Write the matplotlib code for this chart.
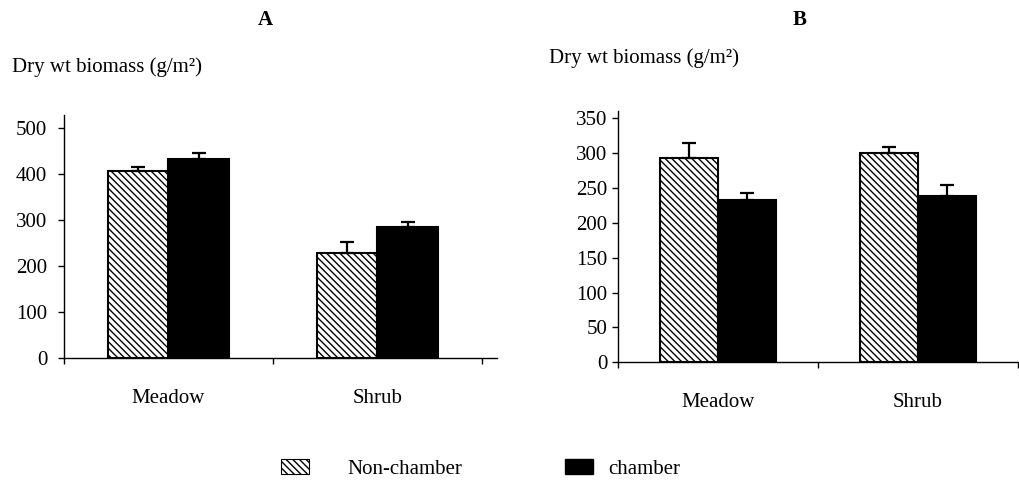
import matplotlib.pyplot as plt
from matplotlib.patches import Patch
import numpy as np

plt.rcParams['font.family'] = ['Liberation Serif', 'DejaVu Serif']
plt.rcParams['hatch.linewidth'] = 1.0

# data
sites = ["Meadow", "Shrub"]
a_non = [406, 228]
a_non_err = [9, 23]
a_ch = [432, 284]
a_ch_err = [13, 12]
b_non = [293, 300]
b_non_err = [22, 9]
b_ch = [233, 239]
b_ch_err = [10, 15]
a_ticks = [0, 100, 200, 300, 400, 500]
b_ticks = [0, 50, 100, 150, 200, 250, 300, 350]

fig = plt.figure(figsize=(10.19, 4.86), dpi=100)
W, H = 1019, 486

def draw_panel(rect, non, non_err, ch, ch_err, yticks, ytop, xright, width, ypad, xpad):
    ax = fig.add_axes(rect)
    x = np.arange(len(sites)) + 0.5
    w = width
    ax.bar(x - w/2, non, w, color="white", edgecolor="black", hatch="\\\\\\\\\\", linewidth=1.5,
           yerr=[[0]*len(non), non_err], capsize=5, error_kw=dict(elinewidth=1.6, capthick=1.6, ecolor="black"))
    ax.bar(x + w/2, ch, w, color="black", edgecolor="black", linewidth=1.5,
           yerr=[[0]*len(ch), ch_err], capsize=5, error_kw=dict(elinewidth=1.6, capthick=1.6, ecolor="black"))
    ax.set_ylim(0, ytop)
    ax.set_xlim(0, xright)
    ax.set_yticks(yticks)
    ax.set_xticks([0, 1, 2])
    ax.set_xticklabels([])
    ax.set_xticks(x, minor=True)
    ax.set_xticklabels(sites, minor=True, fontsize=15)
    ax.tick_params(axis="x", which="major", length=4.5, width=1, direction="out")
    ax.tick_params(axis="x", which="minor", length=0, pad=xpad)
    ax.tick_params(axis="y", length=4.5, width=1, labelsize=15, pad=ypad)
    for s in ["top", "right"]:
        ax.spines[s].set_visible(False)
    for s in ["left", "bottom"]:
        ax.spines[s].set_linewidth(1.0)
    return ax

# panel A
axA = draw_panel([64/W, 128/H, 433/W, 243/H], a_non, a_non_err, a_ch, a_ch_err,
                 a_ticks, 528, 433/209, 0.29, 7.5, 22)
# panel B
axB = draw_panel([618/W, 123.7/H, 401/W, 251/H], b_non, b_non_err, b_ch, b_ch_err,
                 b_ticks, 360, 2.005, 0.29, 3, 22)

fig.text(265/W, 1 - 20/H, "A", fontsize=15, fontweight="bold", ha="center", va="center")
fig.text(800/W, 1 - 20/H, "B", fontsize=15, fontweight="bold", ha="center", va="center")
fig.text(12/W, 1 - 67/H, "Dry wt biomass (g/m²)", fontsize=15, ha="left", va="center")
fig.text(549/W, 1 - 58/H, "Dry wt biomass (g/m²)", fontsize=15, ha="left", va="center")

# legend, two entries placed separately (spacing differs in the original)
h_non = Patch(facecolor="white", edgecolor="black", hatch="\\\\\\\\\\", linewidth=0.8)
h_ch = Patch(facecolor="black", edgecolor="black")
fig.legend([h_non], ["Non-chamber"], loc="center left", bbox_to_anchor=(262/W, 1 - 469/H),
           frameon=False, fontsize=15, handlelength=1.35, handletextpad=1.83)
fig.legend([h_ch], ["chamber"], loc="center left", bbox_to_anchor=(546/W, 1 - 469/H),
           frameon=False, fontsize=15, handlelength=1.35, handletextpad=0.72)

fig.savefig("out.png", dpi=100)
